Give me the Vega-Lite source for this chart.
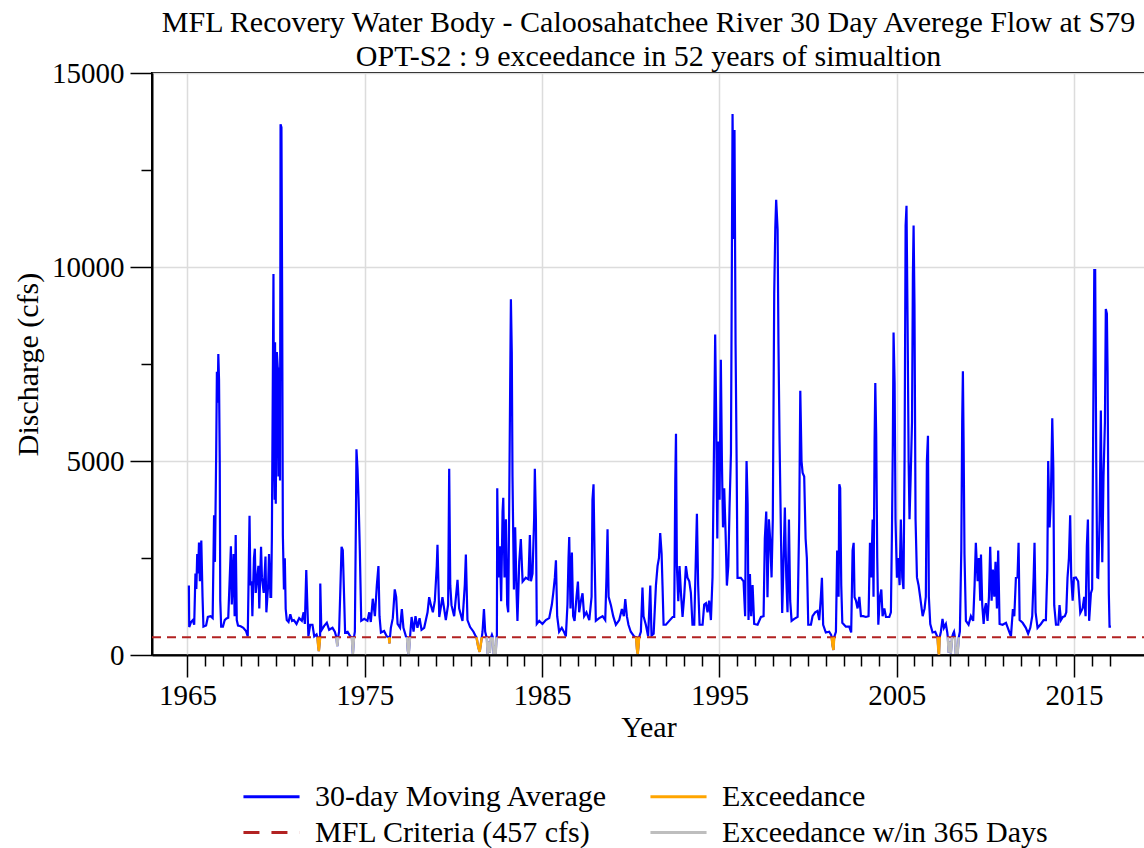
{
"$schema": "https://vega.github.io/schema/vega-lite/v6.json",
"width": 993, "height": 582,
"autosize": {"type": "none"},
"padding": {"left": 152, "top": 73, "right": 0, "bottom": 193},
"background": "white",
"config": {
 "font": "Liberation Serif",
 "view": {"stroke": "black", "strokeWidth": 2},
 "axis": {"domainColor": "black", "domainWidth": 2, "tickColor": "black", "tickWidth": 1.5, "labelColor": "black", "labelFontSize": 29, "labelFont": "Liberation Serif", "titleFont": "Liberation Serif", "titleFontSize": 30, "titleFontWeight": "normal", "titleColor": "black", "gridColor": "#dcdcdc", "gridWidth": 1.5}
},
"title": {"text": ["MFL Recovery Water Body - Caloosahatchee River 30 Day Averege Flow at S79", "OPT-S2 : 9 exceedance in 52 years of simualtion"], "font": "Liberation Serif", "fontSize": 30, "fontWeight": "normal", "color": "black", "anchor": "middle", "frame": "group", "lineHeight": 34, "offset": -13},
"datasets": {
"flow": [
{"s":"30-day Moving Average","t":1965.08,"v":1790},{"s":"30-day Moving Average","t":1965.1,"v":720},{"s":"30-day Moving Average","t":1965.2,"v":850},{"s":"30-day Moving Average","t":1965.3,"v":900},{"s":"30-day Moving Average","t":1965.38,"v":780},{"s":"30-day Moving Average","t":1965.45,"v":2100},{"s":"30-day Moving Average","t":1965.5,"v":1700},{"s":"30-day Moving Average","t":1965.55,"v":2600},{"s":"30-day Moving Average","t":1965.6,"v":2100},{"s":"30-day Moving Average","t":1965.65,"v":2900},{"s":"30-day Moving Average","t":1965.7,"v":1900},{"s":"30-day Moving Average","t":1965.78,"v":2950},{"s":"30-day Moving Average","t":1965.85,"v":1500},{"s":"30-day Moving Average","t":1965.9,"v":730},
{"s":"30-day Moving Average","t":1966.05,"v":760},{"s":"30-day Moving Average","t":1966.15,"v":980},{"s":"30-day Moving Average","t":1966.3,"v":1000},{"s":"30-day Moving Average","t":1966.42,"v":950},{"s":"30-day Moving Average","t":1966.5,"v":3600},{"s":"30-day Moving Average","t":1966.55,"v":2400},{"s":"30-day Moving Average","t":1966.62,"v":5200},{"s":"30-day Moving Average","t":1966.66,"v":7300},{"s":"30-day Moving Average","t":1966.7,"v":6500},{"s":"30-day Moving Average","t":1966.74,"v":7760},{"s":"30-day Moving Average","t":1966.78,"v":7100},{"s":"30-day Moving Average","t":1966.82,"v":5000},{"s":"30-day Moving Average","t":1966.85,"v":1400},{"s":"30-day Moving Average","t":1966.9,"v":730},
{"s":"30-day Moving Average","t":1967.0,"v":730},{"s":"30-day Moving Average","t":1967.1,"v":900},{"s":"30-day Moving Average","t":1967.2,"v":940},{"s":"30-day Moving Average","t":1967.3,"v":960},{"s":"30-day Moving Average","t":1967.45,"v":2800},{"s":"30-day Moving Average","t":1967.5,"v":1300},{"s":"30-day Moving Average","t":1967.6,"v":2600},{"s":"30-day Moving Average","t":1967.66,"v":1000},{"s":"30-day Moving Average","t":1967.72,"v":3090},{"s":"30-day Moving Average","t":1967.78,"v":900},{"s":"30-day Moving Average","t":1967.85,"v":760},
{"s":"30-day Moving Average","t":1968.0,"v":740},{"s":"30-day Moving Average","t":1968.15,"v":700},{"s":"30-day Moving Average","t":1968.3,"v":620},{"s":"30-day Moving Average","t":1968.4,"v":480},{"s":"30-day Moving Average","t":1968.5,"v":3590},{"s":"30-day Moving Average","t":1968.55,"v":1800},{"s":"30-day Moving Average","t":1968.62,"v":1900},{"s":"30-day Moving Average","t":1968.66,"v":1000},{"s":"30-day Moving Average","t":1968.75,"v":2500},{"s":"30-day Moving Average","t":1968.8,"v":2740},{"s":"30-day Moving Average","t":1968.85,"v":1600},
{"s":"30-day Moving Average","t":1969.0,"v":2300},{"s":"30-day Moving Average","t":1969.05,"v":1200},{"s":"30-day Moving Average","t":1969.15,"v":2790},{"s":"30-day Moving Average","t":1969.2,"v":2000},{"s":"30-day Moving Average","t":1969.3,"v":1600},{"s":"30-day Moving Average","t":1969.4,"v":2540},{"s":"30-day Moving Average","t":1969.45,"v":1100},{"s":"30-day Moving Average","t":1969.55,"v":1800},{"s":"30-day Moving Average","t":1969.6,"v":2600},{"s":"30-day Moving Average","t":1969.68,"v":1500},{"s":"30-day Moving Average","t":1969.72,"v":1500},{"s":"30-day Moving Average","t":1969.76,"v":3000},{"s":"30-day Moving Average","t":1969.79,"v":5300},{"s":"30-day Moving Average","t":1969.85,"v":9820},{"s":"30-day Moving Average","t":1969.88,"v":5300},{"s":"30-day Moving Average","t":1969.92,"v":4000},{"s":"30-day Moving Average","t":1969.94,"v":8060},{"s":"30-day Moving Average","t":1969.98,"v":3900},
{"s":"30-day Moving Average","t":1970.04,"v":7810},{"s":"30-day Moving Average","t":1970.09,"v":7410},{"s":"30-day Moving Average","t":1970.13,"v":4600},{"s":"30-day Moving Average","t":1970.17,"v":7410},{"s":"30-day Moving Average","t":1970.22,"v":4500},{"s":"30-day Moving Average","t":1970.25,"v":13680},{"s":"30-day Moving Average","t":1970.3,"v":13600},{"s":"30-day Moving Average","t":1970.34,"v":9170},{"s":"30-day Moving Average","t":1970.38,"v":3090},{"s":"30-day Moving Average","t":1970.44,"v":1690},{"s":"30-day Moving Average","t":1970.49,"v":2490},{"s":"30-day Moving Average","t":1970.54,"v":1185},{"s":"30-day Moving Average","t":1970.6,"v":900},{"s":"30-day Moving Average","t":1970.7,"v":850},{"s":"30-day Moving Average","t":1970.8,"v":1050},{"s":"30-day Moving Average","t":1970.9,"v":880},
{"s":"30-day Moving Average","t":1971.0,"v":900},{"s":"30-day Moving Average","t":1971.15,"v":800},{"s":"30-day Moving Average","t":1971.3,"v":950},{"s":"30-day Moving Average","t":1971.45,"v":880},{"s":"30-day Moving Average","t":1971.55,"v":1100},{"s":"30-day Moving Average","t":1971.62,"v":800},{"s":"30-day Moving Average","t":1971.7,"v":2190},{"s":"30-day Moving Average","t":1971.76,"v":1285},{"s":"30-day Moving Average","t":1971.82,"v":480},{"s":"30-day Moving Average","t":1971.92,"v":780},
{"s":"30-day Moving Average","t":1972.05,"v":780},{"s":"30-day Moving Average","t":1972.15,"v":480},{"s":"30-day Moving Average","t":1972.28,"v":530},{"s":"30-day Moving Average","t":1972.33,"v":457},{"s":"30-day Moving Average","t":1972.37,"v":250},{"s":"30-day Moving Average","t":1972.41,"v":100},{"s":"30-day Moving Average","t":1972.45,"v":300},{"s":"30-day Moving Average","t":1972.48,"v":457},{"s":"30-day Moving Average","t":1972.49,"v":1840},{"s":"30-day Moving Average","t":1972.55,"v":630},{"s":"30-day Moving Average","t":1972.71,"v":750},{"s":"30-day Moving Average","t":1972.86,"v":830},{"s":"30-day Moving Average","t":1972.99,"v":650},
{"s":"30-day Moving Average","t":1973.18,"v":700},{"s":"30-day Moving Average","t":1973.31,"v":600},{"s":"30-day Moving Average","t":1973.4,"v":457},{"s":"30-day Moving Average","t":1973.45,"v":230},{"s":"30-day Moving Average","t":1973.5,"v":457},{"s":"30-day Moving Average","t":1973.55,"v":600},{"s":"30-day Moving Average","t":1973.61,"v":1500},{"s":"30-day Moving Average","t":1973.69,"v":2790},{"s":"30-day Moving Average","t":1973.76,"v":2700},{"s":"30-day Moving Average","t":1973.84,"v":1400},{"s":"30-day Moving Average","t":1973.89,"v":580},
{"s":"30-day Moving Average","t":1974.03,"v":600},{"s":"30-day Moving Average","t":1974.18,"v":480},{"s":"30-day Moving Average","t":1974.27,"v":457},{"s":"30-day Moving Average","t":1974.33,"v":30},{"s":"30-day Moving Average","t":1974.39,"v":457},{"s":"30-day Moving Average","t":1974.44,"v":600},{"s":"30-day Moving Average","t":1974.5,"v":3500},{"s":"30-day Moving Average","t":1974.53,"v":5300},{"s":"30-day Moving Average","t":1974.59,"v":4800},{"s":"30-day Moving Average","t":1974.65,"v":4000},{"s":"30-day Moving Average","t":1974.72,"v":2690},{"s":"30-day Moving Average","t":1974.8,"v":880},{"s":"30-day Moving Average","t":1974.97,"v":930},
{"s":"30-day Moving Average","t":1975.15,"v":880},{"s":"30-day Moving Average","t":1975.25,"v":1100},{"s":"30-day Moving Average","t":1975.34,"v":850},{"s":"30-day Moving Average","t":1975.45,"v":1450},{"s":"30-day Moving Average","t":1975.57,"v":1000},{"s":"30-day Moving Average","t":1975.68,"v":1800},{"s":"30-day Moving Average","t":1975.77,"v":2290},{"s":"30-day Moving Average","t":1975.83,"v":1000},{"s":"30-day Moving Average","t":1975.91,"v":580},
{"s":"30-day Moving Average","t":1976.09,"v":620},{"s":"30-day Moving Average","t":1976.24,"v":480},{"s":"30-day Moving Average","t":1976.36,"v":457},{"s":"30-day Moving Average","t":1976.39,"v":300},{"s":"30-day Moving Average","t":1976.42,"v":457},{"s":"30-day Moving Average","t":1976.47,"v":700},{"s":"30-day Moving Average","t":1976.58,"v":950},{"s":"30-day Moving Average","t":1976.69,"v":1690},{"s":"30-day Moving Average","t":1976.77,"v":1500},{"s":"30-day Moving Average","t":1976.85,"v":800},{"s":"30-day Moving Average","t":1976.99,"v":700},
{"s":"30-day Moving Average","t":1977.09,"v":1185},{"s":"30-day Moving Average","t":1977.18,"v":700},{"s":"30-day Moving Average","t":1977.32,"v":480},{"s":"30-day Moving Average","t":1977.38,"v":457},{"s":"30-day Moving Average","t":1977.43,"v":100},{"s":"30-day Moving Average","t":1977.48,"v":30},{"s":"30-day Moving Average","t":1977.55,"v":457},{"s":"30-day Moving Average","t":1977.64,"v":980},{"s":"30-day Moving Average","t":1977.75,"v":600},{"s":"30-day Moving Average","t":1977.86,"v":1000},{"s":"30-day Moving Average","t":1977.97,"v":700},
{"s":"30-day Moving Average","t":1978.09,"v":950},{"s":"30-day Moving Average","t":1978.2,"v":650},{"s":"30-day Moving Average","t":1978.35,"v":700},{"s":"30-day Moving Average","t":1978.54,"v":1100},{"s":"30-day Moving Average","t":1978.63,"v":1490},{"s":"30-day Moving Average","t":1978.73,"v":1285},{"s":"30-day Moving Average","t":1978.84,"v":1100},{"s":"30-day Moving Average","t":1978.95,"v":1400},
{"s":"30-day Moving Average","t":1979.06,"v":2300},{"s":"30-day Moving Average","t":1979.1,"v":2840},{"s":"30-day Moving Average","t":1979.2,"v":980},{"s":"30-day Moving Average","t":1979.38,"v":1490},{"s":"30-day Moving Average","t":1979.57,"v":900},{"s":"30-day Moving Average","t":1979.7,"v":1300},{"s":"30-day Moving Average","t":1979.76,"v":4800},{"s":"30-day Moving Average","t":1979.82,"v":1800},{"s":"30-day Moving Average","t":1979.89,"v":1285},
{"s":"30-day Moving Average","t":1980.04,"v":1000},{"s":"30-day Moving Average","t":1980.23,"v":1940},{"s":"30-day Moving Average","t":1980.32,"v":1200},{"s":"30-day Moving Average","t":1980.51,"v":880},{"s":"30-day Moving Average","t":1980.64,"v":1800},{"s":"30-day Moving Average","t":1980.7,"v":2590},{"s":"30-day Moving Average","t":1980.79,"v":900},{"s":"30-day Moving Average","t":1980.94,"v":720},
{"s":"30-day Moving Average","t":1981.13,"v":600},{"s":"30-day Moving Average","t":1981.26,"v":480},{"s":"30-day Moving Average","t":1981.3,"v":457},{"s":"30-day Moving Average","t":1981.4,"v":200},{"s":"30-day Moving Average","t":1981.48,"v":80},{"s":"30-day Moving Average","t":1981.55,"v":300},{"s":"30-day Moving Average","t":1981.6,"v":457},{"s":"30-day Moving Average","t":1981.64,"v":600},{"s":"30-day Moving Average","t":1981.72,"v":1185},{"s":"30-day Moving Average","t":1981.79,"v":600},{"s":"30-day Moving Average","t":1981.86,"v":470},{"s":"30-day Moving Average","t":1981.88,"v":457},{"s":"30-day Moving Average","t":1981.93,"v":30},{"s":"30-day Moving Average","t":1981.99,"v":350},
{"s":"30-day Moving Average","t":1982.05,"v":60},{"s":"30-day Moving Average","t":1982.12,"v":457},{"s":"30-day Moving Average","t":1982.17,"v":520},{"s":"30-day Moving Average","t":1982.22,"v":457},{"s":"30-day Moving Average","t":1982.27,"v":30},{"s":"30-day Moving Average","t":1982.33,"v":250},{"s":"30-day Moving Average","t":1982.38,"v":30},{"s":"30-day Moving Average","t":1982.43,"v":457},{"s":"30-day Moving Average","t":1982.45,"v":500},{"s":"30-day Moving Average","t":1982.47,"v":4300},{"s":"30-day Moving Average","t":1982.54,"v":2000},{"s":"30-day Moving Average","t":1982.62,"v":2800},{"s":"30-day Moving Average","t":1982.69,"v":1385},{"s":"30-day Moving Average","t":1982.77,"v":3700},{"s":"30-day Moving Average","t":1982.81,"v":4050},{"s":"30-day Moving Average","t":1982.88,"v":2000},{"s":"30-day Moving Average","t":1982.96,"v":3500},
{"s":"30-day Moving Average","t":1983.03,"v":1300},{"s":"30-day Moving Average","t":1983.09,"v":1100},{"s":"30-day Moving Average","t":1983.14,"v":3600},{"s":"30-day Moving Average","t":1983.2,"v":7000},{"s":"30-day Moving Average","t":1983.24,"v":9170},{"s":"30-day Moving Average","t":1983.29,"v":7810},{"s":"30-day Moving Average","t":1983.33,"v":4600},{"s":"30-day Moving Average","t":1983.41,"v":1690},{"s":"30-day Moving Average","t":1983.48,"v":3290},{"s":"30-day Moving Average","t":1983.56,"v":1600},{"s":"30-day Moving Average","t":1983.61,"v":880},{"s":"30-day Moving Average","t":1983.71,"v":2400},{"s":"30-day Moving Average","t":1983.8,"v":2990},{"s":"30-day Moving Average","t":1983.9,"v":1890},
{"s":"30-day Moving Average","t":1984.08,"v":1990},{"s":"30-day Moving Average","t":1984.23,"v":1950},{"s":"30-day Moving Average","t":1984.31,"v":3090},{"s":"30-day Moving Average","t":1984.37,"v":1900},{"s":"30-day Moving Average","t":1984.46,"v":2100},{"s":"30-day Moving Average","t":1984.55,"v":3500},{"s":"30-day Moving Average","t":1984.59,"v":4800},{"s":"30-day Moving Average","t":1984.65,"v":3500},{"s":"30-day Moving Average","t":1984.7,"v":800},{"s":"30-day Moving Average","t":1984.84,"v":880},
{"s":"30-day Moving Average","t":1985.02,"v":800},{"s":"30-day Moving Average","t":1985.21,"v":900},{"s":"30-day Moving Average","t":1985.4,"v":950},{"s":"30-day Moving Average","t":1985.55,"v":1300},{"s":"30-day Moving Average","t":1985.63,"v":1600},{"s":"30-day Moving Average","t":1985.72,"v":2000},{"s":"30-day Moving Average","t":1985.78,"v":2440},{"s":"30-day Moving Average","t":1985.85,"v":1000},{"s":"30-day Moving Average","t":1985.96,"v":600},
{"s":"30-day Moving Average","t":1986.11,"v":700},{"s":"30-day Moving Average","t":1986.25,"v":580},{"s":"30-day Moving Average","t":1986.34,"v":480},{"s":"30-day Moving Average","t":1986.43,"v":1300},{"s":"30-day Moving Average","t":1986.49,"v":2500},{"s":"30-day Moving Average","t":1986.53,"v":3040},{"s":"30-day Moving Average","t":1986.6,"v":1200},{"s":"30-day Moving Average","t":1986.68,"v":2640},{"s":"30-day Moving Average","t":1986.75,"v":1000},{"s":"30-day Moving Average","t":1986.83,"v":880},{"s":"30-day Moving Average","t":1986.94,"v":1500},
{"s":"30-day Moving Average","t":1987.02,"v":1890},{"s":"30-day Moving Average","t":1987.09,"v":1100},{"s":"30-day Moving Average","t":1987.19,"v":1400},{"s":"30-day Moving Average","t":1987.28,"v":1590},{"s":"30-day Moving Average","t":1987.37,"v":1000},{"s":"30-day Moving Average","t":1987.5,"v":1100},{"s":"30-day Moving Average","t":1987.66,"v":900},{"s":"30-day Moving Average","t":1987.79,"v":1500},{"s":"30-day Moving Average","t":1987.84,"v":4000},{"s":"30-day Moving Average","t":1987.9,"v":4400},{"s":"30-day Moving Average","t":1987.96,"v":2500},
{"s":"30-day Moving Average","t":1988.03,"v":880},{"s":"30-day Moving Average","t":1988.22,"v":950},{"s":"30-day Moving Average","t":1988.41,"v":1000},{"s":"30-day Moving Average","t":1988.56,"v":900},{"s":"30-day Moving Average","t":1988.63,"v":2000},{"s":"30-day Moving Average","t":1988.69,"v":3240},{"s":"30-day Moving Average","t":1988.75,"v":1500},{"s":"30-day Moving Average","t":1988.88,"v":1285},
{"s":"30-day Moving Average","t":1989.01,"v":1000},{"s":"30-day Moving Average","t":1989.16,"v":780},{"s":"30-day Moving Average","t":1989.35,"v":900},{"s":"30-day Moving Average","t":1989.5,"v":1185},{"s":"30-day Moving Average","t":1989.61,"v":1000},{"s":"30-day Moving Average","t":1989.69,"v":1440},{"s":"30-day Moving Average","t":1989.78,"v":1000},{"s":"30-day Moving Average","t":1989.87,"v":780},
{"s":"30-day Moving Average","t":1990.0,"v":600},{"s":"30-day Moving Average","t":1990.19,"v":480},{"s":"30-day Moving Average","t":1990.3,"v":457},{"s":"30-day Moving Average","t":1990.35,"v":150},{"s":"30-day Moving Average","t":1990.39,"v":30},{"s":"30-day Moving Average","t":1990.43,"v":200},{"s":"30-day Moving Average","t":1990.47,"v":457},{"s":"30-day Moving Average","t":1990.57,"v":600},{"s":"30-day Moving Average","t":1990.66,"v":1740},{"s":"30-day Moving Average","t":1990.72,"v":1000},{"s":"30-day Moving Average","t":1990.85,"v":780},{"s":"30-day Moving Average","t":1990.98,"v":480},
{"s":"30-day Moving Average","t":1991.1,"v":1790},{"s":"30-day Moving Average","t":1991.17,"v":500},{"s":"30-day Moving Average","t":1991.29,"v":550},{"s":"30-day Moving Average","t":1991.42,"v":1800},{"s":"30-day Moving Average","t":1991.51,"v":2290},{"s":"30-day Moving Average","t":1991.59,"v":2500},{"s":"30-day Moving Average","t":1991.66,"v":3140},{"s":"30-day Moving Average","t":1991.74,"v":2600},{"s":"30-day Moving Average","t":1991.79,"v":1800},{"s":"30-day Moving Average","t":1991.85,"v":780},{"s":"30-day Moving Average","t":1991.98,"v":780},
{"s":"30-day Moving Average","t":1992.17,"v":880},{"s":"30-day Moving Average","t":1992.36,"v":980},{"s":"30-day Moving Average","t":1992.45,"v":980},{"s":"30-day Moving Average","t":1992.51,"v":4500},{"s":"30-day Moving Average","t":1992.55,"v":5700},{"s":"30-day Moving Average","t":1992.6,"v":2290},{"s":"30-day Moving Average","t":1992.68,"v":1385},{"s":"30-day Moving Average","t":1992.75,"v":2290},{"s":"30-day Moving Average","t":1992.83,"v":1600},{"s":"30-day Moving Average","t":1992.92,"v":980},
{"s":"30-day Moving Average","t":1993.01,"v":1500},{"s":"30-day Moving Average","t":1993.11,"v":2290},{"s":"30-day Moving Average","t":1993.2,"v":1990},{"s":"30-day Moving Average","t":1993.3,"v":1900},{"s":"30-day Moving Average","t":1993.39,"v":1600},{"s":"30-day Moving Average","t":1993.48,"v":780},{"s":"30-day Moving Average","t":1993.58,"v":780},{"s":"30-day Moving Average","t":1993.67,"v":2500},{"s":"30-day Moving Average","t":1993.73,"v":3640},{"s":"30-day Moving Average","t":1993.8,"v":1800},{"s":"30-day Moving Average","t":1993.88,"v":780},
{"s":"30-day Moving Average","t":1994.05,"v":780},{"s":"30-day Moving Average","t":1994.14,"v":1300},{"s":"30-day Moving Average","t":1994.24,"v":1335},{"s":"30-day Moving Average","t":1994.33,"v":1100},{"s":"30-day Moving Average","t":1994.42,"v":1400},{"s":"30-day Moving Average","t":1994.52,"v":900},{"s":"30-day Moving Average","t":1994.61,"v":2000},{"s":"30-day Moving Average","t":1994.71,"v":6000},{"s":"30-day Moving Average","t":1994.76,"v":8260},{"s":"30-day Moving Average","t":1994.82,"v":6000},{"s":"30-day Moving Average","t":1994.88,"v":3000},{"s":"30-day Moving Average","t":1994.93,"v":5500},
{"s":"30-day Moving Average","t":1995.01,"v":4000},{"s":"30-day Moving Average","t":1995.08,"v":7610},{"s":"30-day Moving Average","t":1995.14,"v":5000},{"s":"30-day Moving Average","t":1995.2,"v":3290},{"s":"30-day Moving Average","t":1995.27,"v":4300},{"s":"30-day Moving Average","t":1995.35,"v":3100},{"s":"30-day Moving Average","t":1995.42,"v":1790},{"s":"30-day Moving Average","t":1995.5,"v":2290},{"s":"30-day Moving Average","t":1995.57,"v":3800},{"s":"30-day Moving Average","t":1995.65,"v":5200},{"s":"30-day Moving Average","t":1995.7,"v":10000},{"s":"30-day Moving Average","t":1995.74,"v":13940},{"s":"30-day Moving Average","t":1995.8,"v":10720},{"s":"30-day Moving Average","t":1995.85,"v":13530},{"s":"30-day Moving Average","t":1995.91,"v":8000},{"s":"30-day Moving Average","t":1995.97,"v":5000},
{"s":"30-day Moving Average","t":1996.02,"v":1990},{"s":"30-day Moving Average","t":1996.21,"v":1990},{"s":"30-day Moving Average","t":1996.36,"v":1900},{"s":"30-day Moving Average","t":1996.45,"v":1000},{"s":"30-day Moving Average","t":1996.49,"v":3500},{"s":"30-day Moving Average","t":1996.53,"v":5000},{"s":"30-day Moving Average","t":1996.59,"v":3900},{"s":"30-day Moving Average","t":1996.64,"v":900},{"s":"30-day Moving Average","t":1996.72,"v":2090},{"s":"30-day Moving Average","t":1996.79,"v":1000},{"s":"30-day Moving Average","t":1996.87,"v":1800},{"s":"30-day Moving Average","t":1996.96,"v":800},
{"s":"30-day Moving Average","t":1997.15,"v":780},{"s":"30-day Moving Average","t":1997.34,"v":980},{"s":"30-day Moving Average","t":1997.49,"v":1000},{"s":"30-day Moving Average","t":1997.56,"v":3000},{"s":"30-day Moving Average","t":1997.64,"v":3700},{"s":"30-day Moving Average","t":1997.71,"v":1490},{"s":"30-day Moving Average","t":1997.79,"v":3500},{"s":"30-day Moving Average","t":1997.86,"v":2990},{"s":"30-day Moving Average","t":1997.94,"v":2000},
{"s":"30-day Moving Average","t":1998.01,"v":3500},{"s":"30-day Moving Average","t":1998.09,"v":9320},{"s":"30-day Moving Average","t":1998.15,"v":11000},{"s":"30-day Moving Average","t":1998.2,"v":11730},{"s":"30-day Moving Average","t":1998.28,"v":10970},{"s":"30-day Moving Average","t":1998.33,"v":8000},{"s":"30-day Moving Average","t":1998.39,"v":5550},{"s":"30-day Moving Average","t":1998.47,"v":3090},{"s":"30-day Moving Average","t":1998.54,"v":1085},{"s":"30-day Moving Average","t":1998.62,"v":2500},{"s":"30-day Moving Average","t":1998.69,"v":3800},{"s":"30-day Moving Average","t":1998.77,"v":2000},{"s":"30-day Moving Average","t":1998.84,"v":1100},{"s":"30-day Moving Average","t":1998.92,"v":3490},{"s":"30-day Moving Average","t":1998.99,"v":1400},
{"s":"30-day Moving Average","t":1999.07,"v":880},{"s":"30-day Moving Average","t":1999.22,"v":930},{"s":"30-day Moving Average","t":1999.41,"v":980},{"s":"30-day Moving Average","t":1999.5,"v":3500},{"s":"30-day Moving Average","t":1999.56,"v":6810},{"s":"30-day Moving Average","t":1999.63,"v":5000},{"s":"30-day Moving Average","t":1999.69,"v":4700},{"s":"30-day Moving Average","t":1999.78,"v":4600},{"s":"30-day Moving Average","t":1999.86,"v":3000},{"s":"30-day Moving Average","t":1999.93,"v":2500},
{"s":"30-day Moving Average","t":2000.01,"v":780},{"s":"30-day Moving Average","t":2000.16,"v":780},{"s":"30-day Moving Average","t":2000.25,"v":1000},{"s":"30-day Moving Average","t":2000.4,"v":1100},{"s":"30-day Moving Average","t":2000.53,"v":1135},{"s":"30-day Moving Average","t":2000.63,"v":900},{"s":"30-day Moving Average","t":2000.72,"v":1500},{"s":"30-day Moving Average","t":2000.78,"v":1990},{"s":"30-day Moving Average","t":2000.85,"v":780},
{"s":"30-day Moving Average","t":2001.0,"v":580},{"s":"30-day Moving Average","t":2001.19,"v":600},{"s":"30-day Moving Average","t":2001.3,"v":520},{"s":"30-day Moving Average","t":2001.33,"v":457},{"s":"30-day Moving Average","t":2001.38,"v":250},{"s":"30-day Moving Average","t":2001.43,"v":130},{"s":"30-day Moving Average","t":2001.47,"v":457},{"s":"30-day Moving Average","t":2001.57,"v":600},{"s":"30-day Moving Average","t":2001.64,"v":2690},{"s":"30-day Moving Average","t":2001.72,"v":1500},{"s":"30-day Moving Average","t":2001.76,"v":4400},{"s":"30-day Moving Average","t":2001.81,"v":4300},{"s":"30-day Moving Average","t":2001.87,"v":1800},{"s":"30-day Moving Average","t":2001.93,"v":830},
{"s":"30-day Moving Average","t":2002.13,"v":730},{"s":"30-day Moving Average","t":2002.32,"v":730},{"s":"30-day Moving Average","t":2002.43,"v":580},{"s":"30-day Moving Average","t":2002.51,"v":2700},{"s":"30-day Moving Average","t":2002.57,"v":2890},{"s":"30-day Moving Average","t":2002.62,"v":1490},{"s":"30-day Moving Average","t":2002.7,"v":1400},{"s":"30-day Moving Average","t":2002.79,"v":1200},{"s":"30-day Moving Average","t":2002.89,"v":1500},{"s":"30-day Moving Average","t":2002.98,"v":1000},
{"s":"30-day Moving Average","t":2003.11,"v":1000},{"s":"30-day Moving Average","t":2003.26,"v":980},{"s":"30-day Moving Average","t":2003.41,"v":1000},{"s":"30-day Moving Average","t":2003.49,"v":2890},{"s":"30-day Moving Average","t":2003.56,"v":2000},{"s":"30-day Moving Average","t":2003.64,"v":3490},{"s":"30-day Moving Average","t":2003.69,"v":1500},{"s":"30-day Moving Average","t":2003.75,"v":5500},{"s":"30-day Moving Average","t":2003.79,"v":7010},{"s":"30-day Moving Average","t":2003.84,"v":5700},{"s":"30-day Moving Average","t":2003.9,"v":2500},{"s":"30-day Moving Average","t":2003.96,"v":780},
{"s":"30-day Moving Average","t":2004.05,"v":1500},{"s":"30-day Moving Average","t":2004.13,"v":1690},{"s":"30-day Moving Average","t":2004.2,"v":1000},{"s":"30-day Moving Average","t":2004.3,"v":1200},{"s":"30-day Moving Average","t":2004.39,"v":980},{"s":"30-day Moving Average","t":2004.58,"v":980},{"s":"30-day Moving Average","t":2004.67,"v":1100},{"s":"30-day Moving Average","t":2004.73,"v":3190},{"s":"30-day Moving Average","t":2004.78,"v":5500},{"s":"30-day Moving Average","t":2004.82,"v":8310},{"s":"30-day Moving Average","t":2004.88,"v":7000},{"s":"30-day Moving Average","t":2004.93,"v":3490},
{"s":"30-day Moving Average","t":2005.01,"v":1990},{"s":"30-day Moving Average","t":2005.08,"v":2500},{"s":"30-day Moving Average","t":2005.16,"v":1800},{"s":"30-day Moving Average","t":2005.23,"v":3490},{"s":"30-day Moving Average","t":2005.31,"v":2000},{"s":"30-day Moving Average","t":2005.38,"v":1700},{"s":"30-day Moving Average","t":2005.44,"v":5000},{"s":"30-day Moving Average","t":2005.5,"v":11070},{"s":"30-day Moving Average","t":2005.55,"v":11580},{"s":"30-day Moving Average","t":2005.61,"v":8620},{"s":"30-day Moving Average","t":2005.67,"v":5000},{"s":"30-day Moving Average","t":2005.72,"v":3500},{"s":"30-day Moving Average","t":2005.78,"v":4500},{"s":"30-day Moving Average","t":2005.86,"v":6000},{"s":"30-day Moving Average","t":2005.91,"v":9800},{"s":"30-day Moving Average","t":2005.95,"v":11070},
{"s":"30-day Moving Average","t":2006.0,"v":9020},{"s":"30-day Moving Average","t":2006.06,"v":3500},{"s":"30-day Moving Average","t":2006.14,"v":2000},{"s":"30-day Moving Average","t":2006.23,"v":1800},{"s":"30-day Moving Average","t":2006.32,"v":1500},{"s":"30-day Moving Average","t":2006.46,"v":1000},{"s":"30-day Moving Average","t":2006.57,"v":1200},{"s":"30-day Moving Average","t":2006.64,"v":1500},{"s":"30-day Moving Average","t":2006.7,"v":5000},{"s":"30-day Moving Average","t":2006.76,"v":5650},{"s":"30-day Moving Average","t":2006.81,"v":1500},{"s":"30-day Moving Average","t":2006.89,"v":800},
{"s":"30-day Moving Average","t":2007.02,"v":580},{"s":"30-day Moving Average","t":2007.17,"v":600},{"s":"30-day Moving Average","t":2007.28,"v":480},{"s":"30-day Moving Average","t":2007.3,"v":457},{"s":"30-day Moving Average","t":2007.35,"v":100},{"s":"30-day Moving Average","t":2007.38,"v":10},{"s":"30-day Moving Average","t":2007.42,"v":457},{"s":"30-day Moving Average","t":2007.49,"v":600},{"s":"30-day Moving Average","t":2007.58,"v":930},{"s":"30-day Moving Average","t":2007.66,"v":700},{"s":"30-day Moving Average","t":2007.77,"v":800},{"s":"30-day Moving Average","t":2007.85,"v":580},{"s":"30-day Moving Average","t":2007.88,"v":457},{"s":"30-day Moving Average","t":2007.93,"v":60},{"s":"30-day Moving Average","t":2007.99,"v":350},
{"s":"30-day Moving Average","t":2008.05,"v":40},{"s":"30-day Moving Average","t":2008.12,"v":457},{"s":"30-day Moving Average","t":2008.18,"v":550},{"s":"30-day Moving Average","t":2008.23,"v":600},{"s":"30-day Moving Average","t":2008.28,"v":457},{"s":"30-day Moving Average","t":2008.33,"v":30},{"s":"30-day Moving Average","t":2008.38,"v":200},{"s":"30-day Moving Average","t":2008.43,"v":30},{"s":"30-day Moving Average","t":2008.5,"v":457},{"s":"30-day Moving Average","t":2008.56,"v":600},{"s":"30-day Moving Average","t":2008.64,"v":2700},{"s":"30-day Moving Average","t":2008.69,"v":6000},{"s":"30-day Moving Average","t":2008.73,"v":7310},{"s":"30-day Moving Average","t":2008.77,"v":5500},{"s":"30-day Moving Average","t":2008.82,"v":2590},{"s":"30-day Moving Average","t":2008.9,"v":880},
{"s":"30-day Moving Average","t":2009.05,"v":780},{"s":"30-day Moving Average","t":2009.18,"v":1000},{"s":"30-day Moving Average","t":2009.31,"v":880},{"s":"30-day Moving Average","t":2009.39,"v":1800},{"s":"30-day Moving Average","t":2009.46,"v":2890},{"s":"30-day Moving Average","t":2009.56,"v":1900},{"s":"30-day Moving Average","t":2009.63,"v":2500},{"s":"30-day Moving Average","t":2009.71,"v":1400},{"s":"30-day Moving Average","t":2009.75,"v":2590},{"s":"30-day Moving Average","t":2009.82,"v":1300},{"s":"30-day Moving Average","t":2009.9,"v":800},{"s":"30-day Moving Average","t":2009.97,"v":1200},
{"s":"30-day Moving Average","t":2010.03,"v":1335},{"s":"30-day Moving Average","t":2010.12,"v":880},{"s":"30-day Moving Average","t":2010.2,"v":1500},{"s":"30-day Moving Average","t":2010.27,"v":2790},{"s":"30-day Moving Average","t":2010.35,"v":1400},{"s":"30-day Moving Average","t":2010.42,"v":2200},{"s":"30-day Moving Average","t":2010.5,"v":1500},{"s":"30-day Moving Average","t":2010.57,"v":2400},{"s":"30-day Moving Average","t":2010.65,"v":1200},{"s":"30-day Moving Average","t":2010.72,"v":2690},{"s":"30-day Moving Average","t":2010.8,"v":800},{"s":"30-day Moving Average","t":2010.97,"v":780},
{"s":"30-day Moving Average","t":2011.16,"v":830},{"s":"30-day Moving Average","t":2011.34,"v":600},{"s":"30-day Moving Average","t":2011.44,"v":480},{"s":"30-day Moving Average","t":2011.55,"v":1185},{"s":"30-day Moving Average","t":2011.63,"v":1000},{"s":"30-day Moving Average","t":2011.72,"v":1990},{"s":"30-day Moving Average","t":2011.81,"v":2000},{"s":"30-day Moving Average","t":2011.87,"v":2890},{"s":"30-day Moving Average","t":2011.93,"v":900},
{"s":"30-day Moving Average","t":2012.1,"v":830},{"s":"30-day Moving Average","t":2012.28,"v":700},{"s":"30-day Moving Average","t":2012.41,"v":550},{"s":"30-day Moving Average","t":2012.53,"v":700},{"s":"30-day Moving Average","t":2012.64,"v":1000},{"s":"30-day Moving Average","t":2012.72,"v":2000},{"s":"30-day Moving Average","t":2012.77,"v":2890},{"s":"30-day Moving Average","t":2012.83,"v":1100},{"s":"30-day Moving Average","t":2012.94,"v":700},
{"s":"30-day Moving Average","t":2013.13,"v":800},{"s":"30-day Moving Average","t":2013.28,"v":900},{"s":"30-day Moving Average","t":2013.41,"v":900},{"s":"30-day Moving Average","t":2013.49,"v":2200},{"s":"30-day Moving Average","t":2013.54,"v":5000},{"s":"30-day Moving Average","t":2013.62,"v":3290},{"s":"30-day Moving Average","t":2013.69,"v":4000},{"s":"30-day Moving Average","t":2013.77,"v":6100},{"s":"30-day Moving Average","t":2013.83,"v":4800},{"s":"30-day Moving Average","t":2013.88,"v":1285},{"s":"30-day Moving Average","t":2013.98,"v":780},
{"s":"30-day Moving Average","t":2014.11,"v":780},{"s":"30-day Moving Average","t":2014.18,"v":1285},{"s":"30-day Moving Average","t":2014.26,"v":900},{"s":"30-day Moving Average","t":2014.37,"v":980},{"s":"30-day Moving Average","t":2014.48,"v":1000},{"s":"30-day Moving Average","t":2014.56,"v":1100},{"s":"30-day Moving Average","t":2014.63,"v":1990},{"s":"30-day Moving Average","t":2014.71,"v":2500},{"s":"30-day Moving Average","t":2014.78,"v":3600},{"s":"30-day Moving Average","t":2014.84,"v":2000},{"s":"30-day Moving Average","t":2014.92,"v":1400},{"s":"30-day Moving Average","t":2014.99,"v":1990},
{"s":"30-day Moving Average","t":2015.1,"v":2000},{"s":"30-day Moving Average","t":2015.23,"v":1900},{"s":"30-day Moving Average","t":2015.35,"v":1085},{"s":"30-day Moving Average","t":2015.48,"v":1200},{"s":"30-day Moving Average","t":2015.57,"v":1500},{"s":"30-day Moving Average","t":2015.65,"v":1000},{"s":"30-day Moving Average","t":2015.72,"v":2800},{"s":"30-day Moving Average","t":2015.78,"v":3490},{"s":"30-day Moving Average","t":2015.85,"v":880},{"s":"30-day Moving Average","t":2015.95,"v":1590},
{"s":"30-day Moving Average","t":2016.02,"v":1700},{"s":"30-day Moving Average","t":2016.08,"v":6000},{"s":"30-day Moving Average","t":2016.14,"v":9920},{"s":"30-day Moving Average","t":2016.19,"v":9920},{"s":"30-day Moving Average","t":2016.25,"v":5000},{"s":"30-day Moving Average","t":2016.31,"v":2000},{"s":"30-day Moving Average","t":2016.36,"v":1990},{"s":"30-day Moving Average","t":2016.44,"v":3500},{"s":"30-day Moving Average","t":2016.51,"v":6300},{"s":"30-day Moving Average","t":2016.59,"v":2390},{"s":"30-day Moving Average","t":2016.66,"v":4600},{"s":"30-day Moving Average","t":2016.74,"v":6000},{"s":"30-day Moving Average","t":2016.79,"v":8920},{"s":"30-day Moving Average","t":2016.85,"v":8800},{"s":"30-day Moving Average","t":2016.89,"v":7310},{"s":"30-day Moving Average","t":2016.93,"v":4000},{"s":"30-day Moving Average","t":2016.96,"v":1590},
{"s":"30-day Moving Average","t":2017.0,"v":730},{"s":"30-day Moving Average","t":2017.08,"v":730}
],
"exc": [
{"g":1,"s":"Exceedance","t":1972.33,"v":457},{"g":1,"s":"Exceedance","t":1972.37,"v":250},{"g":1,"s":"Exceedance","t":1972.41,"v":100},{"g":1,"s":"Exceedance","t":1972.45,"v":300},{"g":1,"s":"Exceedance","t":1972.48,"v":457},
{"g":2,"s":"Exceedance w/in 365 Days","t":1973.4,"v":457},{"g":2,"s":"Exceedance w/in 365 Days","t":1973.45,"v":230},{"g":2,"s":"Exceedance w/in 365 Days","t":1973.5,"v":457},
{"g":3,"s":"Exceedance w/in 365 Days","t":1974.27,"v":457},{"g":3,"s":"Exceedance w/in 365 Days","t":1974.33,"v":30},{"g":3,"s":"Exceedance w/in 365 Days","t":1974.39,"v":457},
{"g":4,"s":"Exceedance","t":1976.36,"v":457},{"g":4,"s":"Exceedance","t":1976.39,"v":300},{"g":4,"s":"Exceedance","t":1976.42,"v":457},
{"g":5,"s":"Exceedance w/in 365 Days","t":1977.38,"v":457},{"g":5,"s":"Exceedance w/in 365 Days","t":1977.43,"v":100},{"g":5,"s":"Exceedance w/in 365 Days","t":1977.48,"v":30},{"g":5,"s":"Exceedance w/in 365 Days","t":1977.55,"v":457},
{"g":6,"s":"Exceedance","t":1981.3,"v":457},{"g":6,"s":"Exceedance","t":1981.4,"v":200},{"g":6,"s":"Exceedance","t":1981.48,"v":80},{"g":6,"s":"Exceedance","t":1981.55,"v":300},{"g":6,"s":"Exceedance","t":1981.6,"v":457},
{"g":7,"s":"Exceedance w/in 365 Days","t":1981.88,"v":457},{"g":7,"s":"Exceedance w/in 365 Days","t":1981.93,"v":30},{"g":7,"s":"Exceedance w/in 365 Days","t":1981.99,"v":350},{"g":7,"s":"Exceedance w/in 365 Days","t":1982.05,"v":60},{"g":7,"s":"Exceedance w/in 365 Days","t":1982.12,"v":457},
{"g":8,"s":"Exceedance w/in 365 Days","t":1982.22,"v":457},{"g":8,"s":"Exceedance w/in 365 Days","t":1982.27,"v":30},{"g":8,"s":"Exceedance w/in 365 Days","t":1982.33,"v":250},{"g":8,"s":"Exceedance w/in 365 Days","t":1982.38,"v":30},{"g":8,"s":"Exceedance w/in 365 Days","t":1982.43,"v":457},
{"g":9,"s":"Exceedance","t":1990.3,"v":457},{"g":9,"s":"Exceedance","t":1990.35,"v":150},{"g":9,"s":"Exceedance","t":1990.39,"v":30},{"g":9,"s":"Exceedance","t":1990.43,"v":200},{"g":9,"s":"Exceedance","t":1990.47,"v":457},
{"g":10,"s":"Exceedance","t":2001.33,"v":457},{"g":10,"s":"Exceedance","t":2001.38,"v":250},{"g":10,"s":"Exceedance","t":2001.43,"v":130},{"g":10,"s":"Exceedance","t":2001.47,"v":457},
{"g":11,"s":"Exceedance","t":2007.3,"v":457},{"g":11,"s":"Exceedance","t":2007.35,"v":100},{"g":11,"s":"Exceedance","t":2007.38,"v":10},{"g":11,"s":"Exceedance","t":2007.42,"v":457},
{"g":12,"s":"Exceedance w/in 365 Days","t":2007.88,"v":457},{"g":12,"s":"Exceedance w/in 365 Days","t":2007.93,"v":60},{"g":12,"s":"Exceedance w/in 365 Days","t":2007.99,"v":350},{"g":12,"s":"Exceedance w/in 365 Days","t":2008.05,"v":40},{"g":12,"s":"Exceedance w/in 365 Days","t":2008.12,"v":457},
{"g":13,"s":"Exceedance w/in 365 Days","t":2008.28,"v":457},{"g":13,"s":"Exceedance w/in 365 Days","t":2008.33,"v":30},{"g":13,"s":"Exceedance w/in 365 Days","t":2008.38,"v":200},{"g":13,"s":"Exceedance w/in 365 Days","t":2008.43,"v":30},{"g":13,"s":"Exceedance w/in 365 Days","t":2008.5,"v":457}
],
"mfl": [{"s":"MFL Criteria (457 cfs)","t":1963,"v":457},{"s":"MFL Criteria (457 cfs)","t":2019,"v":457}]
},
"encoding": {
 "x": {"field": "t", "type": "quantitative", "scale": {"domain": [1963, 2019], "nice": false, "zero": false},
  "axis": {"title": "Year", "values": [1965,1966,1967,1968,1969,1970,1971,1972,1973,1974,1975,1976,1977,1978,1979,1980,1981,1982,1983,1984,1985,1986,1987,1988,1989,1990,1991,1992,1993,1994,1995,1996,1997,1998,1999,2000,2001,2002,2003,2004,2005,2006,2007,2008,2009,2010,2011,2012,2013,2014,2015,2016,2017],
   "labelExpr": "datum.value % 10 == 5 ? format(datum.value, 'd') : ''",
   "tickSize": {"condition": {"test": "datum.value % 10 == 5", "value": 22}, "value": 11},
   "gridOpacity": {"condition": {"test": "datum.value % 10 == 5", "value": 1}, "value": 0},
   "labelOverlap": false, "labelFlush": false, "labelPadding": 4, "titlePadding": 2}},
 "y": {"field": "v", "type": "quantitative", "scale": {"domain": [0, 15000], "nice": false},
  "axis": {"title": "Discharge (cfs)", "values": [0,2500,5000,7500,10000,12500,15000],
   "labelExpr": "datum.value % 5000 == 0 ? format(datum.value, 'd') : ''",
   "tickSize": {"condition": {"test": "datum.value % 5000 == 0", "value": 22}, "value": 11},
   "gridOpacity": {"condition": {"test": "datum.value % 5000 == 0", "value": 1}, "value": 0},
   "labelOverlap": false, "labelFlush": false, "labelPadding": 6, "titlePadding": 8}},
 "color": {"field": "s", "type": "nominal",
    "scale": {"domain": ["30-day Moving Average", "MFL Criteria (457 cfs)", "Exceedance", "Exceedance w/in 365 Days"], "range": ["#0000FF", "#B22222", "#FFA500", "#BEBEBE"]},
    "legend": {"title": null, "orient": "none", "legendX": 103, "legendY": 707, "columns": 2, "symbolType": "M-1.87,0L1.87,0", "symbolSize": 900, "symbolStrokeWidth": 3, "symbolFillColor": "transparent", "labelFontSize": 30, "labelFont": "Liberation Serif", "labelColor": "black", "labelOffset": 27, "labelLimit": 0, "columnPadding": 36, "rowPadding": 4, "padding": 0,
     "encode": {"symbols": {"update": {"fill": {"value": "transparent"}, "strokeDash": [{"test": "datum.value === 'MFL Criteria (457 cfs)'", "value": [16, 12]}, {"value": [1, 0]}]}}}}}
},
"layer": [
 {"data": {"name": "flow"}, "mark": {"type": "line", "strokeWidth": 2.2, "clip": true}},
 {"data": {"name": "mfl"}, "mark": {"type": "line", "strokeWidth": 2, "strokeDash": [9, 6], "clip": true}},
 {"data": {"name": "exc"}, "mark": {"type": "line", "strokeWidth": 2.5, "clip": true},
  "encoding": {"detail": {"field": "g", "type": "nominal"}}}
]
}
